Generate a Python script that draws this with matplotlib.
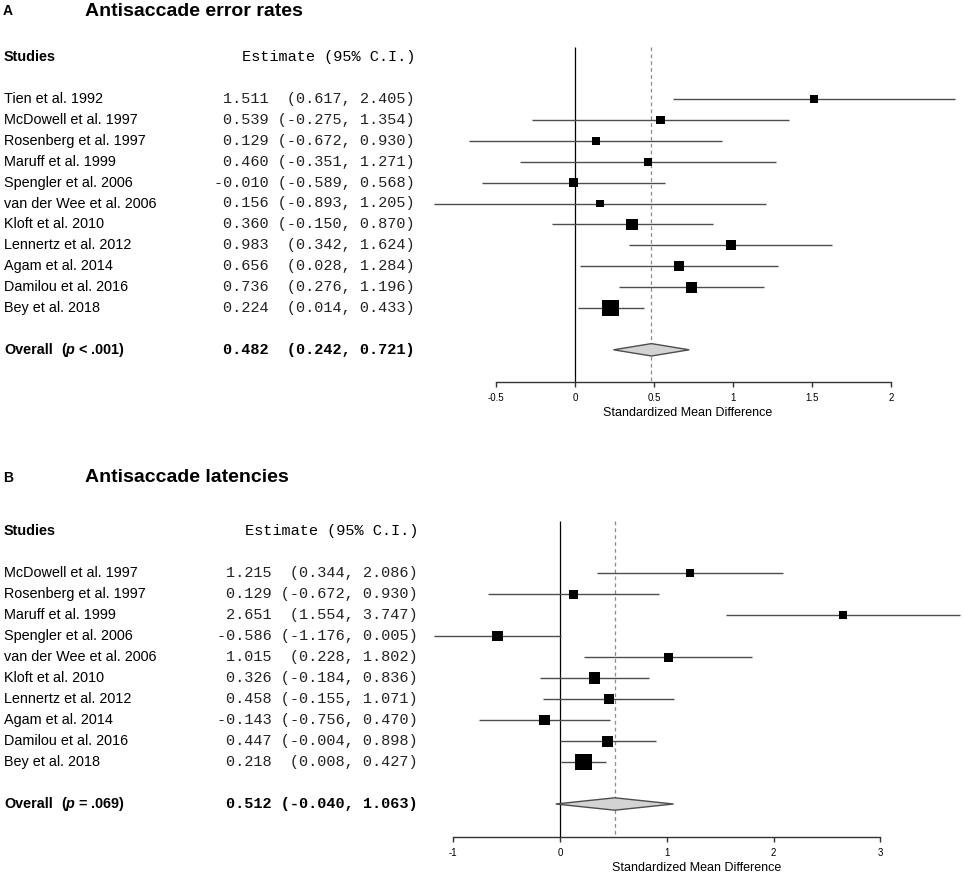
import matplotlib
matplotlib.use("Agg")
import matplotlib.pyplot as plt
import matplotlib.transforms as mtransforms
from matplotlib.patches import Polygon

W, H, DPI = 964, 877, 100

# ---- panel A: antisaccade error rates ----
studies_a = ["Tien et al. 1992", "McDowell et al. 1997", "Rosenberg et al. 1997",
             "Maruff et al. 1999", "Spengler et al. 2006", "van der Wee et al. 2006",
             "Kloft et al. 2010", "Lennertz et al. 2012", "Agam et al. 2014",
             "Damilou et al. 2016", "Bey et al. 2018"]
est_a = [1.511, 0.539, 0.129, 0.460, -0.010, 0.156, 0.360, 0.983, 0.656, 0.736, 0.224]
lo_a = [0.617, -0.275, -0.672, -0.351, -0.589, -0.893, -0.150, 0.342, 0.028, 0.276, 0.014]
hi_a = [2.405, 1.354, 0.930, 1.271, 0.568, 1.205, 0.870, 1.624, 1.284, 1.196, 0.433]
weight_a = [8.3, 8.3, 8.3, 8.3, 9.0, 7.7, 11.7, 10.0, 10.3, 11.0, 16.5]  # square side, px
overall_a = (0.482, 0.242, 0.721)
ticks_a = [-0.5, 0, 0.5, 1, 1.5, 2]
tick_labels_a = ["-0.5", "0", "0.5", "1", "1.5", "2"]

# ---- panel B: antisaccade latencies ----
studies_b = ["McDowell et al. 1997", "Rosenberg et al. 1997", "Maruff et al. 1999",
             "Spengler et al. 2006", "van der Wee et al. 2006", "Kloft et al. 2010",
             "Lennertz et al. 2012", "Agam et al. 2014", "Damilou et al. 2016",
             "Bey et al. 2018"]
est_b = [1.215, 0.129, 2.651, -0.586, 1.015, 0.326, 0.458, -0.143, 0.447, 0.218]
lo_b = [0.344, -0.672, 1.554, -1.176, 0.228, -0.184, -0.155, -0.756, -0.004, 0.008]
hi_b = [2.086, 0.930, 3.747, 0.005, 1.802, 0.836, 1.071, 0.470, 0.898, 0.427]
weight_b = [8.3, 9.0, 7.3, 10.7, 9.0, 11.3, 10.7, 10.7, 11.0, 16.7]
overall_b = (0.512, -0.040, 1.063)
ticks_b = [-1, 0, 1, 2, 3]
tick_labels_b = ["-1", "0", "1", "2", "3"]

plt.rcParams.update({"font.family": "Liberation Sans",
                     "mathtext.fontset": "custom",
                     "mathtext.bfit": "Liberation Sans:italic:bold",
                     "mathtext.bf": "Liberation Sans:bold"})
MONO = "Liberation Mono"
LINE = "#4d4d4d"


def fmt(est, lo, hi):
    lo_s = f"({lo:.3f}"
    return f"{est:.3f} {lo_s:>7}, {hi:.3f})"


def panel(fig, letter, title, studies, est, lo, hi, weight, overall, p_label,
          ticks, tick_labels, zero_px, unit_px, first_py, row_px, title_py,
          est_right_px, xlab_px):
    ax = fig.add_axes([0, 0, 1, 1])
    ax.patch.set_alpha(0)
    ax.set_xlim(-zero_px / unit_px, (W - zero_px) / unit_px)
    ax.set_ylim((H - first_py) / row_px, -first_py / row_px)
    for s in ["top", "left", "right"]:
        ax.spines[s].set_visible(False)
    ax.set_yticks([])

    n = len(studies)
    rows = list(range(n))
    row_overall = n + 1
    row_axis = row_overall + 1.55
    row_top = -2.5

    # axis
    ax.spines["bottom"].set_position(("data", row_axis))
    ax.spines["bottom"].set_bounds(ticks[0], ticks[-1])
    ax.spines["bottom"].set_color("#333333")
    ax.spines["bottom"].set_linewidth(1.0)
    ax.set_xticks(ticks)
    ax.set_xticklabels(tick_labels)
    ax.tick_params(axis="x", direction="out", length=3.6, width=1.0,
                   color="#333333", labelsize=7, pad=4.5)

    # reference lines
    ax.vlines(0, row_top, row_axis, color="black", lw=0.9, zorder=1)
    ax.vlines(overall[0], row_top, row_axis, color="#8c8c8c", lw=0.9,
              linestyles=(0, (3, 2.5)), zorder=1)

    # study CIs and squares
    ax.hlines(rows, lo, hi, color=LINE, lw=1.0, zorder=2)
    ax.scatter(est, rows, marker="s", s=[(w * 72 / DPI) ** 2 for w in weight],
               color="black", linewidths=0, zorder=3)

    # overall diamond
    h = 6.2 / row_px
    e, l, u = overall
    dia = Polygon([(l, row_overall), (e, row_overall - h), (u, row_overall),
                   (e, row_overall + h)], closed=True, facecolor="#d3d3d3",
                  edgecolor=LINE, lw=1.0, zorder=3)
    ax.add_patch(dia)

    # text columns
    tr = mtransforms.blended_transform_factory(ax.transAxes, ax.transData)
    ax.text(4 / W, -2, "Studies", transform=tr, fontsize=10.4,
            fontweight="bold", va="center", ha="left")
    ax.text(est_right_px / W, -2, "Estimate (95% C.I.)", transform=tr,
            fontsize=11, family=MONO, va="center", ha="right")
    for r, name, a, b, c in zip(rows, studies, est, lo, hi):
        ax.text(4 / W, r, name, transform=tr, fontsize=10.4, va="center", ha="left")
        ax.text(est_right_px / W, r, fmt(a, b, c), transform=tr, fontsize=11,
                family=MONO, va="center", ha="right", color="#222222")
    ax.text(4 / W, row_overall, "Overall", transform=tr, fontsize=10.4,
            fontweight="bold", va="center", ha="left")
    ax.text(61 / W, row_overall, "(" + r"$\mathbfit{p}$" + p_label + ")",
            transform=tr, fontsize=10.4, fontweight="bold", va="center", ha="left")
    ax.text(est_right_px / W, row_overall, fmt(*overall), transform=tr,
            fontsize=11, family=MONO, fontweight="bold", va="center", ha="right")

    ax.text(xlab_px / W, row_axis + 31 / row_px, "Standardized Mean Difference",
            transform=tr, fontsize=9, va="center", ha="center")

    # titles
    ty = 1 - title_py / H
    fig.text(3 / W, ty, letter, fontsize=10, fontweight="bold", va="center", ha="left")
    fig.text(85 / W, ty, title, fontsize=14, fontweight="bold", va="center", ha="left")
    return ax


fig = plt.figure(figsize=(W / DPI, H / DPI), dpi=DPI)
panel(fig, "A", "Antisaccade error rates", studies_a, est_a, lo_a, hi_a, weight_a,
      overall_a, " < .001", ticks_a, tick_labels_a, zero_px=575.3, unit_px=158.0,
      first_py=99, row_px=20.9, title_py=11, est_right_px=415, xlab_px=688)
panel(fig, "B", "Antisaccade latencies", studies_b, est_b, lo_b, hi_b, weight_b,
      overall_b, " = .069", ticks_b, tick_labels_b, zero_px=560.0, unit_px=106.8,
      first_py=573, row_px=21.0, title_py=478, est_right_px=418, xlab_px=697)
fig.savefig("out.png", dpi=DPI)
